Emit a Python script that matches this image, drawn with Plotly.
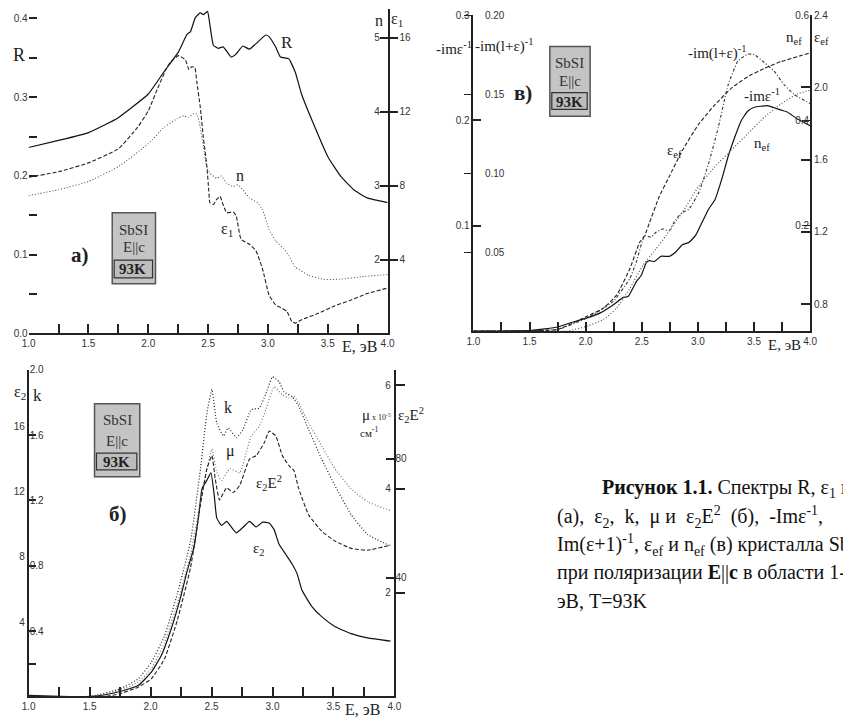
import plotly.graph_objects as go

W, H = 843, 725
def fx(p): return p / W
def fy(p): return 1 - p / H

# ---------------- panel а): R, n, eps1 ----------------
E_R = [1.0, 1.25, 1.5, 1.75, 2.0, 2.13, 2.25, 2.325, 2.352, 2.393, 2.434, 2.462, 2.495, 2.516,
       2.544, 2.585, 2.626, 2.694, 2.735, 2.79, 2.845, 2.90, 2.982, 3.009, 3.064, 3.105, 3.173,
       3.228, 3.283, 3.392, 3.502, 3.611, 3.721, 3.83, 4.0]
R = [0.236, 0.245, 0.255, 0.274, 0.304, 0.332, 0.357, 0.380, 0.383, 0.401, 0.407, 0.405, 0.409,
     0.391, 0.366, 0.362, 0.364, 0.351, 0.355, 0.365, 0.361, 0.368, 0.379, 0.377, 0.364, 0.351,
     0.349, 0.332, 0.303, 0.262, 0.224, 0.199, 0.182, 0.172, 0.166]

E_e1 = [1.0, 1.25, 1.5, 1.75, 1.91, 2.0, 2.08, 2.16, 2.19, 2.25, 2.31, 2.34, 2.365, 2.39, 2.405,
        2.435, 2.46, 2.49, 2.505, 2.515, 2.545, 2.57, 2.60, 2.625, 2.655, 2.71, 2.735, 2.775,
        2.845, 2.90, 2.955, 3.01, 3.065, 3.12, 3.16, 3.20, 3.23, 3.28, 3.42, 3.56, 3.69, 3.83, 4.0]
eps1 = [8.46, 8.76, 9.24, 10.0, 11.16, 12.05, 13.3, 14.45, 14.72, 15.04, 14.81, 14.28, 14.45,
        14.37, 13.66, 12.23, 10.63, 9.03, 7.79, 7.08, 6.99, 7.25, 7.43, 6.99, 6.54, 6.58, 6.37,
        5.11, 4.84, 4.48, 3.50, 2.08, 1.55, 1.37, 1.19, 0.66, 0.57, 0.75, 1.10, 1.51, 1.81, 2.17, 2.47]

E_n = [1.0, 1.25, 1.5, 1.75, 2.0, 2.133, 2.251, 2.297, 2.338, 2.38, 2.407, 2.434, 2.462, 2.489,
       2.516, 2.571, 2.612, 2.653, 2.708, 2.749, 2.79, 2.845, 2.913, 2.954, 3.009, 3.064, 3.132,
       3.173, 3.228, 3.338, 3.474, 3.611, 3.776, 4.0]
n_val = [2.867, 2.947, 3.058, 3.258, 3.569, 3.791, 3.916, 3.947, 3.924, 3.978, 3.969, 3.791, 3.524,
         3.258, 3.169, 3.102, 3.133, 3.036, 2.991, 3.013, 2.947, 2.836, 2.769, 2.680, 2.413, 2.258,
         2.147, 2.058, 1.902, 1.791, 1.733, 1.738, 1.769, 1.800]

# ---------------- panel б): eps2, k, mu, eps2*E^2 ----------------
E_e2 = [1.0, 1.253, 1.508, 1.629, 1.75, 1.898, 2.005, 2.086, 2.167, 2.247, 2.301, 2.355, 2.395,
        2.422, 2.462, 2.495, 2.522, 2.543, 2.583, 2.624, 2.664, 2.704, 2.758, 2.812, 2.866, 2.919,
        2.973, 3.013, 3.054, 3.108, 3.161, 3.202, 3.242, 3.323, 3.403, 3.511, 3.645, 3.78, 3.968]
eps2 = [0.06, 0.0, 0.0, 0.1, 0.3, 0.66, 1.47, 2.47, 4.08, 6.09, 7.7, 9.1, 11.1, 12.72, 13.23, 13.69,
        12.32, 10.91, 10.47, 10.71, 10.35, 10.01, 10.35, 10.71, 10.37, 10.67, 10.61, 10.21, 9.31,
        8.70, 8.10, 7.50, 6.49, 5.49, 4.88, 4.28, 3.84, 3.58, 3.38]

E_k = [1.0, 1.508, 1.75, 1.898, 2.005, 2.113, 2.22, 2.328, 2.409, 2.462, 2.503, 2.543, 2.597,
       2.637, 2.704, 2.758, 2.825, 2.892, 2.946, 3.0, 3.054, 3.094, 3.161, 3.215, 3.296, 3.403,
       3.511, 3.645, 3.78, 3.968]
k_val = [0.0, 0.0, 0.046, 0.107, 0.207, 0.368, 0.629, 0.951, 1.393, 1.735, 1.879, 1.674, 1.594,
         1.644, 1.584, 1.634, 1.755, 1.765, 1.855, 1.956, 1.926, 1.865, 1.835, 1.775, 1.634, 1.453,
         1.292, 1.112, 0.991, 0.92]

E_mu = [1.0, 1.508, 1.75, 1.898, 2.005, 2.113, 2.22, 2.328, 2.409, 2.462, 2.503, 2.543, 2.583,
        2.65, 2.731, 2.825, 2.892, 2.946, 3.013, 3.081, 3.134, 3.175, 3.215, 3.296, 3.403, 3.511,
        3.645, 3.78, 3.968]
mu = [0.0, 0.0, 0.114, 0.272, 0.525, 1.03, 1.79, 2.74, 3.75, 4.39, 4.77, 4.32, 4.16, 4.39, 4.31,
      5.02, 5.21, 5.53, 5.97, 5.81, 5.75, 5.79, 5.65, 5.27, 4.83, 4.39, 4.0, 3.75, 3.58]

E_e2E2 = [1.0, 1.629, 1.75, 1.898, 2.005, 2.113, 2.22, 2.328, 2.409, 2.462, 2.503, 2.53, 2.565,
          2.624, 2.677, 2.731, 2.812, 2.866, 2.933, 2.973, 3.027, 3.081, 3.134, 3.175, 3.215,
          3.296, 3.403, 3.511, 3.645, 3.78, 3.968]
e2E2 = [0.0, 0.0, 0.9, 3.1, 5.86, 12.5, 25.7, 43.4, 64.4, 76.6, 81.0, 73.3, 66.1, 70.2, 68.6, 71.0,
        79.9, 81.0, 85.4, 89.3, 87.6, 81.0, 77.7, 76.0, 69.9, 61.1, 55.6, 52.3, 49.8, 49.2, 50.9]

# ---------------- panel в): -Im eps^-1, -Im(1+eps)^-1, n_ef, eps_ef ----------------
E_loss = [1.0, 1.254, 1.517, 1.751, 1.868, 2.014, 2.131, 2.247, 2.335, 2.379, 2.452, 2.496, 2.54,
          2.569, 2.613, 2.671, 2.744, 2.803, 2.861, 2.919, 2.978, 3.036, 3.095, 3.153, 3.212, 3.27,
          3.328, 3.387, 3.445, 3.504, 3.62, 3.679, 3.737, 3.796, 3.883, 4.0]
loss = [0.0, 0.0, 0.0006, 0.0038, 0.0078, 0.0125, 0.0172, 0.025, 0.0319, 0.0328, 0.0469, 0.053,
        0.065, 0.0669, 0.066, 0.071, 0.0709, 0.075, 0.0819, 0.084, 0.0906, 0.103, 0.1156, 0.125,
        0.144, 0.166, 0.184, 0.200, 0.209, 0.2125, 0.214, 0.212, 0.210, 0.208, 0.2016, 0.195]

E_sloss = [1.0, 1.751, 2.014, 2.247, 2.394, 2.452, 2.525, 2.583, 2.627, 2.686, 2.744, 2.803, 2.861,
           2.919, 3.007, 3.095, 3.182, 3.27, 3.357, 3.445, 3.504, 3.591, 3.679, 3.767, 3.854, 4.0]
sloss = [0.0, 0.001, 0.0083, 0.0188, 0.0333, 0.0438, 0.0604, 0.0594, 0.0625, 0.0646, 0.0635,
         0.0708, 0.075, 0.077, 0.0875, 0.106, 0.129, 0.156, 0.171, 0.1754, 0.175, 0.170, 0.1646,
         0.156, 0.150, 0.144]

E_eef = [1.0, 1.751, 2.014, 2.16, 2.277, 2.394, 2.481, 2.525, 2.569, 2.656, 2.744, 2.861, 3.007,
         3.153, 3.299, 3.445, 3.591, 3.737, 4.0]
eps_ef = [0.651, 0.66, 0.733, 0.778, 0.851, 0.996, 1.142, 1.178, 1.251, 1.396, 1.505, 1.651, 1.796,
          1.905, 1.996, 2.06, 2.105, 2.142, 2.191]

E_nef = [1.0, 1.838, 2.014, 2.16, 2.277, 2.394, 2.51, 2.627, 2.715, 2.861, 3.007, 3.153, 3.299,
         3.445, 3.591, 3.737, 3.883, 4.0]
n_ef = [0.0, 0.0, 0.0094, 0.0219, 0.0438, 0.081, 0.125, 0.156, 0.181, 0.225, 0.275, 0.3125, 0.344,
        0.375, 0.406, 0.431, 0.45, 0.4575]

x_ticks = [1.0, 1.5, 2.0, 2.5, 3.0, 3.5, 4.0]

fig = go.Figure()

def add(x, y, xa, ya, dash, color, width=1.1):
    fig.add_trace(go.Scatter(x=x, y=y, xaxis=xa, yaxis=ya, mode="lines",
                             line=dict(color=color, width=width, dash=dash,
                                       shape="spline", smoothing=0.4),
                             showlegend=False, hoverinfo="skip"))

DASH = "4px,2px"
DOT = "1px,2px"

add(E_R, R, "x", "y", "solid", "#111", 1.2)
add(E_e1, eps1, "x", "y3", DASH, "#222")
add(E_n, n_val, "x", "y2", DOT, "#555")

add(E_e2, eps2, "x2", "y4", "solid", "#111", 1.2)
add(E_k, k_val, "x2", "y5", DOT, "#222", 1.2)
add(E_mu, mu, "x2", "y6", DOT, "#777", 1.2)
add(E_e2E2, e2E2, "x2", "y7", DASH, "#222")

add(E_loss, loss, "x3", "y8", "solid", "#111", 1.2)
add(E_sloss, sloss, "x3", "y9", "3px,2px,1px,2px", "#333")
add(E_eef, eps_ef, "x3", "y11", DASH, "#222")
add(E_nef, n_ef, "x3", "y10", DOT, "#555", 1.2)

TF = dict(family="Liberation Sans Narrow, Liberation Sans, Arial", size=10, color="#333")
AX = dict(showgrid=False, zeroline=False, tickfont=TF, tickcolor="#222", linecolor="#222")

def xax(dom, anchor):
    return dict(AX, domain=dom, anchor=anchor, range=[1, 4], tickvals=x_ticks,
                ticktext=[f"{v:.1f}" for v in x_ticks], ticks="inside", ticklen=9, tickwidth=2,
                showline=True, linewidth=2,
                minor=dict(tickvals=[1.25, 1.75, 2.25, 2.75, 3.25, 3.75], ticks="inside",
                           ticklen=9, tickwidth=2, tickcolor="#222", showgrid=False))

def yax(**kw):
    d = dict(AX, tickwidth=2, ticklen=8)
    d.update(kw)
    return d

layout = dict(
    width=W, height=H, margin=dict(l=0, r=0, t=0, b=0),
    paper_bgcolor="white", plot_bgcolor="rgba(0,0,0,0)",
    # panel а
    xaxis=xax([fx(22), fx(387)], "y"),
    yaxis=yax(domain=[fy(332.3), fy(3)], anchor="x", range=[0, 0.4121],
              tickvals=[0.0, 0.1, 0.2, 0.3, 0.4], ticktext=["0.0", "0.1", "0.2", "0.3", "0.4"],
              ticks="inside", showline=False,
              minor=dict(tickvals=[0.05, 0.15, 0.25, 0.35], ticks="inside", ticklen=8,
                         tickwidth=2, tickcolor="#222", showgrid=False)),
    yaxis2=yax(overlaying="y", side="right", anchor="x", range=[1.006, 5.391],
               tickvals=[2, 3, 4, 5], ticks="inside", ticklabelstandoff=-17,
               showline=True, linewidth=1.5),
    yaxis3=yax(overlaying="y", side="right", anchor="x", range=[0.024, 17.564],
               tickvals=[4, 8, 12, 16], ticks="outside", ticklen=9, showline=False),
    # panel б
    xaxis2=xax([fx(22), fx(394)], "y4"),
    yaxis4=yax(domain=[fy(701), fy(369.3)], anchor="x2", range=[0, 20],
               tickvals=[2, 4, 8, 12, 16], ticktext=["", "4", "8", "12", "16"],
               ticks="inside", showline=True, linewidth=1.5, ticklabelshift=-9),
    yaxis5=yax(overlaying="y4", side="left", anchor="x2", range=[0, 2.0],
               tickvals=[0.4, 0.8, 1.2, 1.6, 2.0], ticktext=["0.4", "0.8", "1.2", "1.6", "2.0"],
               ticks="", ticklabelstandoff=-16, showline=False),
    yaxis6=yax(overlaying="y4", side="right", anchor="x2", range=[0, 6.297],
               tickvals=[2, 4, 6], ticks="outside", ticklen=9, ticklabelstandoff=-22,
               showline=True, linewidth=1.5),
    yaxis7=yax(overlaying="y4", side="right", anchor="x2", range=[0, 109.94],
               tickvals=[40, 80], ticks="inside", showline=False),
    # panel в
    xaxis3=xax([fx(474.3), fx(816.7)], "y8"),
    yaxis8=yax(domain=[fy(330), fy(9.3)], anchor="x3", range=[0, 0.3],
               tickvals=[0.1, 0.2, 0.3], ticktext=["0.1", "0.2", "0.3"], ticks="inside",
               showline=True, linewidth=1.5),
    yaxis9=yax(overlaying="y8", side="left", anchor="x3", range=[0, 0.2],
               tickvals=[0.05, 0.10, 0.15, 0.20], ticktext=["0.05", "0.10", "0.15", "0.20"],
               ticks="outside", ticklen=8, tickwidth=1, ticklabelstandoff=-42, showline=False),
    yaxis10=yax(overlaying="y8", side="right", anchor="x3", range=[0, 0.6],
                tickvals=[0.2, 0.4, 0.6], ticktext=["0.2", "0.4", "0.6"], ticks="inside",
                tickwidth=1, ticklabelstandoff=-16, showline=False),
    yaxis11=yax(overlaying="y8", side="right", anchor="x3", range=[0.651, 2.4],
                tickvals=[0.8, 1.2, 1.6, 2.0, 2.4], ticktext=["0.8", "1.2", "1.6", "2.0", "2.4"],
                ticks="inside", ticklen=9, showline=True, linewidth=1.5),
)
fig.update_layout(**layout)

SERIF = "Liberation Serif, Times New Roman, serif"
anns = []
def ann(text, x, y, size=16, color="#222", xanchor="center", family=SERIF):
    anns.append(dict(text=text, x=fx(x), y=fy(y), xref="paper", yref="paper", showarrow=False,
                     xanchor=xanchor, yanchor="middle", font=dict(family=family, size=size, color=color)))

# panel а labels
ann("R", 12, 50, 18)
ann("n", 378, 15, 16)
ann("ε<sub>1</sub>", 397, 14, 16)
ann("R", 285, 37, 17)
ann("n", 237, 172, 16)
ann("ε<sub>1</sub>", 224, 227, 16)
ann("<b>а)</b>", 74, 253, 21)
ann("E, эВ", 358, 346, 16)

# panel в labels
ann("-imε<sup>-1</sup>", 455, 43, 15)
ann("-im(l+ε)<sup>-1</sup>", 506, 40, 15)
ann("<b>в)</b>", 525, 88, 21)
ann("-im(l+ε)<sup>-1</sup>", 722, 47, 15)
ann("-imε<sup>-1</sup>", 768, 90, 15)
ann("n<sub>ef</sub>", 768, 140, 15)
ann("ε<sub>ef</sub>", 679, 147, 15)
ann("n<sub>ef</sub>", 800, 33, 15)
ann("ε<sub>ef</sub>", 828, 33, 15)
ann("E, эВ", 791, 344, 15)

# panel б labels
ann("ε<sub>2</sub>", 13, 392, 16)
ann("k", 31, 395, 17)
ann("k", 225, 408, 16)
ann("μ", 227, 452, 16)
ann("ε<sub>2</sub>E<sup>2</sup>", 266, 484, 15)
ann("ε<sub>2</sub>", 256, 551, 15)
ann("<b>б)</b>", 113, 516, 21)
ann("μ<span style='font-size:8px'> x 10<sup>-5</sup></span>", 376, 415, 15)
ann("см<sup>-1</sup>", 368, 433, 11)
ann("ε<sub>2</sub>E<sup>2</sup>", 411, 415, 15)
ann("E, эВ", 362, 714, 16)

# sample boxes
shapes = []
def box(x0, y0, x1, y1, iy0, iy1, ty):
    shapes.append(dict(type="rect", xref="paper", yref="paper", x0=fx(x0), x1=fx(x1), y0=fy(y1), y1=fy(y0),
                       fillcolor="#c4c4c4", line=dict(color="#555", width=1.5)))
    shapes.append(dict(type="rect", xref="paper", yref="paper", x0=fx(x0 + 2), x1=fx(x1 - 3), y0=fy(iy1), y1=fy(iy0),
                       fillcolor="#bdbdbd", line=dict(color="#333", width=1.2)))
    cx = (x0 + x1) / 2
    ann("SbSI", cx, ty[0], 15, "#333")
    ann("E||c", cx, ty[1], 15, "#333")
    ann("<b>93K</b>", cx - 1, ty[2], 15, "#222")

box(107, 210, 151, 282, 258, 276, (227, 245, 267))
box(552, 41, 593, 112, 88, 105, (58, 76, 97))
box(89, 404, 135, 478, 454, 471, (420, 442, 463))

# caption
S = "\u00a0"
cap = [
    (603, 490, "<b>Рисунок 1.1.</b> Спектры R, ε<sub>1</sub> и n"),
    (557, 519, f"(а),{S}{S}ε<sub>2</sub>,{S}{S}k,{S}{S}μ и{S}{S}ε<sub>2</sub>E<sup>2</sup>{S}{S}(б),{S}{S}-Imε<sup>-1</sup>,"),
    (557, 547, "Im(ε+1)<sup>-1</sup>, ε<sub>ef</sub> и n<sub>ef</sub> (в) кристалла SbSI"),
    (557, 575, "при поляризации <b>E</b>||<b>c</b> в области 1-4"),
    (557, 604, "эВ, T=93K"),
]
for x, y, t in cap:
    ann(t, x, y, 20, "#111", xanchor="left")

fig.update_layout(annotations=anns, shapes=shapes)
fig.write_html("out.html")
